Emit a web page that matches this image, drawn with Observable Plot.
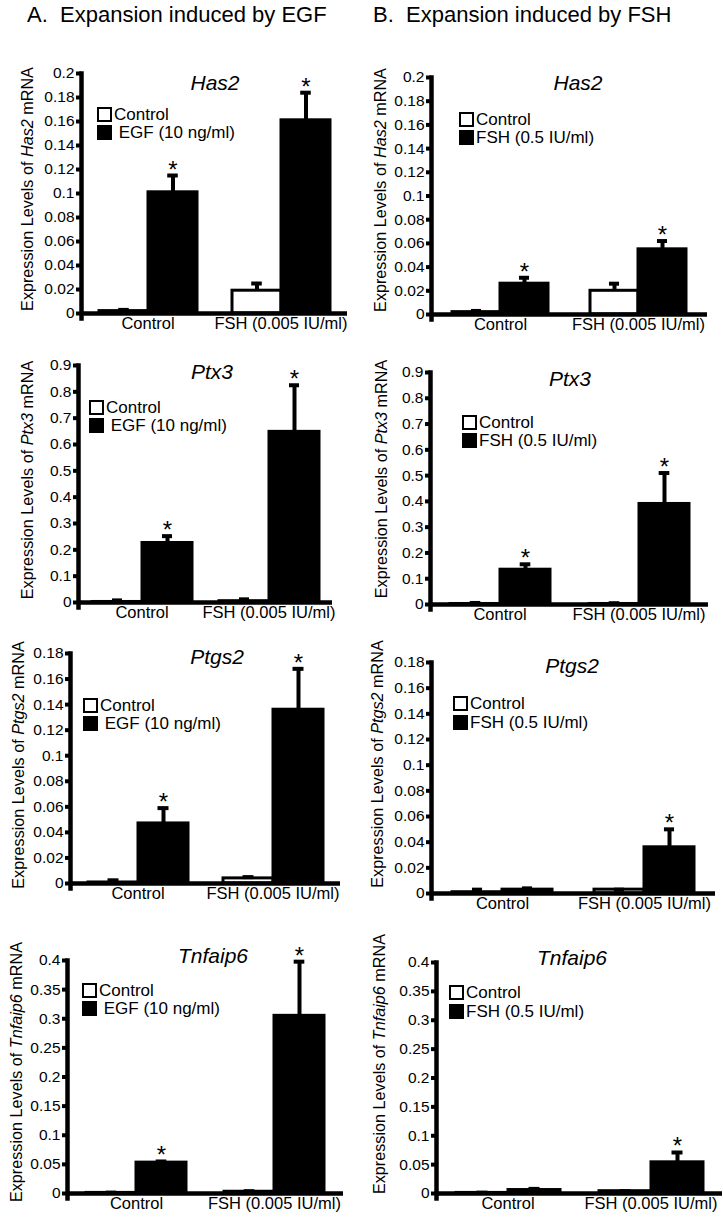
<!DOCTYPE html>
<html><head><meta charset="utf-8">
<script src="https://cdn.jsdelivr.net/npm/d3@7"></script>
<script src="https://cdn.jsdelivr.net/npm/@observablehq/plot@0.6"></script>
<style>
body{margin:0;background:#fff;}
#fig{position:relative;width:723px;height:1219px;overflow:hidden;color:#000;background:#fff;font-family:"Liberation Sans",Arial,sans-serif;}
.abs{position:absolute;white-space:pre;line-height:1;}
.title{font-size:22px;transform:translateY(-50%);}
.gene{font-size:21px;font-style:italic;transform:translate(-50%,-50%);}
.ylab{font-size:16.2px;transform:translate(-50%,-50%) rotate(-90deg);}
.leg{font-size:17px;display:flex;align-items:center;height:16px;}
.sw{display:inline-block;width:15px;height:15px;box-sizing:border-box;border:2.5px solid #000;margin-right:2px;flex:none;}
.panel{position:absolute;}
</style></head><body><div id="fig"></div>
<script>
// ---------- data ----------
const groups = ["Control", "FSH (0.005 IU/ml)"];
const egfSeries = ["Control", "EGF (10 ng/ml)"];
const fshSeries = ["Control", "FSH (0.5 IU/ml)"];
const genes = ["Has2", "Ptx3", "Ptgs2", "Tnfaip6"];
const yMax = [0.2, 0.9, 0.18, 0.4];
const yTicks = [
  [0, 0.02, 0.04, 0.06, 0.08, 0.1, 0.12, 0.14, 0.16, 0.18, 0.2],
  [0, 0.1, 0.2, 0.3, 0.4, 0.5, 0.6, 0.7, 0.8, 0.9],
  [0, 0.02, 0.04, 0.06, 0.08, 0.1, 0.12, 0.14, 0.16, 0.18],
  [0, 0.05, 0.1, 0.15, 0.2, 0.25, 0.3, 0.35, 0.4]
];
// order: [Control/Control, Treatment/Control, Control/FSH, Treatment/FSH]
const egfMeans = [
  [0.002, 0.101, 0.019, 0.161],
  [0.002, 0.226, 0.005, 0.648],
  [0.0008, 0.047, 0.004, 0.136],
  [0.001, 0.053, 0.003, 0.305]
];
const egfTops = [
  [0.003, 0.115, 0.025, 0.184],
  [0.008, 0.252, 0.012, 0.825],
  [0.0025, 0.059, 0.005, 0.168],
  [0.0015, 0.055, 0.004, 0.398]
];
const egfSig = [[0, 1, 0, 1], [0, 1, 0, 1], [0, 1, 0, 1], [0, 1, 0, 1]];
const fshMeans = [
  [0.002, 0.026, 0.020, 0.055],
  [0.002, 0.135, 0.002, 0.39],
  [0.001, 0.003, 0.003, 0.036],
  [0.001, 0.006, 0.004, 0.054]
];
const fshTops = [
  [0.003, 0.031, 0.026, 0.062],
  [0.006, 0.156, 0.005, 0.51],
  [0.003, 0.004, 0.003, 0.05],
  [0.0015, 0.008, 0.004, 0.071]
];
const fshSig = [[0, 1, 0, 1], [0, 1, 0, 1], [0, 0, 0, 1], [0, 0, 0, 1]];
const panelTitles = ["A.  Expansion induced by EGF", "B.  Expansion induced by FSH"];

// ---------- layout (pixels) ----------
const colBox = [{left: 0, w: 360}, {left: 360, w: 363}];
const rowBox = [{top: 40, h: 300}, {top: 340, h: 285}, {top: 625, h: 290}, {top: 915, h: 304}];
const frames = [
  [ {ax: 80, yt: 73, yz: 313, r: 347, pad: 0.35},
    {ax: 77, yt: 365, yz: 602, r: 332, pad: 0.25},
    {ax: 70, yt: 653, yz: 883, r: 340, pad: 0.35},
    {ax: 67, yt: 960, yz: 1193, r: 343, pad: 0.37} ],
  [ {ax: 431, yt: 77, yz: 314, r: 707, pad: 0.41},
    {ax: 430, yt: 372, yz: 604, r: 708, pad: 0.38},
    {ax: 430, yt: 662, yz: 893, r: 715, pad: 0.40},
    {ax: 436, yt: 962, yz: 1193, r: 722, pad: 0.375} ]
];
const yLabPos = [[[26.5, 189], [26.5, 479.5], [17.5, 765], [16, 1072]], [[380, 190], [381, 479], [377, 764], [379, 1064]]];
const genePos = [[[215, 82], [212, 371], [217, 656], [213, 955]], [[578, 82], [570, 378], [572, 665], [572, 957]]];
const legPos = [[[97, 114, 132.5], [89, 407.5, 425.7], [83, 705, 723], [82, 990, 1008]],
                [[459, 119.5, 137.5], [462, 422.5, 440.5], [453, 703.5, 722], [449, 992.5, 1011]]];
const titlePos = [[27, 15], [373, 15]];

const fig = document.getElementById("fig");
const FONT = '"Liberation Sans", Arial, sans-serif';

function addDiv(cls, x, y, html) {
  const d = document.createElement("div");
  d.className = "abs " + cls;
  d.style.left = x + "px";
  d.style.top = y + "px";
  d.innerHTML = html;
  fig.appendChild(d);
  return d;
}

function panel(col, row) {
  const series = col === 0 ? egfSeries : fshSeries;
  const means = (col === 0 ? egfMeans : fshMeans)[row];
  const tops = (col === 0 ? egfTops : fshTops)[row];
  const sig = (col === 0 ? egfSig : fshSig)[row];
  const rows = [];
  groups.forEach((g, gi) => series.forEach((s, si) => {
    const k = gi * 2 + si;
    rows.push({group: g, series: s, mean: means[k], top: tops[k], sig: sig[k]});
  }));
  const F = frames[col][row], C = colBox[col], R = rowBox[row];
  const facetW = (F.r - F.ax) / 2;
  const bw = facetW / (2 + 2 * F.pad);
  const capInset = (bw - 11) / 2;
  const plot = Plot.plot({
    width: C.w, height: R.h,
    marginLeft: F.ax - C.left, marginRight: C.left + C.w - F.r,
    marginTop: F.yt - R.top, marginBottom: R.top + R.h - F.yz,
    style: {background: "transparent", overflow: "visible", fontFamily: FONT, fontSize: "16px", color: "black"},
    fx: {domain: groups, paddingInner: 0, paddingOuter: 0},
    x: {domain: series, paddingInner: 0, paddingOuter: F.pad, axis: null},
    y: {domain: [0, yMax[row]], axis: null},
    color: {domain: series, range: ["white", "black"]},
    marks: [
      Plot.ruleX(rows, {fx: "group", x: "series", y1: "mean", y2: "top", stroke: "black", strokeWidth: 4}),
      Plot.barY(rows, {fx: "group", x: "series", y: "mean", fill: "series", stroke: "black", strokeWidth: 3}),
      Plot.tickY(rows, {fx: "group", x: "series", y: "top", stroke: "black", strokeWidth: 4, insetLeft: capInset, insetRight: capInset}),
      Plot.text(rows.filter(d => d.sig), {fx: "group", x: "series", y: "top", text: d => "*", fontSize: 24, lineAnchor: "bottom", dy: 2, fill: "black"}),
      Plot.ruleY([0], {stroke: "black", strokeWidth: 4.5}),
      Plot.frame({anchor: "left", facetAnchor: "left", stroke: "black", strokeWidth: 4.5, insetBottom: -5}),
      Plot.axisY({ticks: yTicks[row], tickSize: 5, strokeWidth: 4, tickPadding: 2, tickFormat: d3.format("~g"), label: null, fontSize: 15.5}),
      Plot.axisFx({anchor: "bottom", tickSize: 0, tickPadding: 4, label: null, fontSize: 16.5})
    ]
  });
  const wrap = document.createElement("div");
  wrap.className = "panel";
  wrap.style.left = C.left + "px";
  wrap.style.top = R.top + "px";
  wrap.appendChild(plot);
  fig.appendChild(wrap);

  // overlays: gene title, y label, legend
  const gene = genes[row];
  addDiv("gene", genePos[col][row][0], genePos[col][row][1], gene);
  addDiv("ylab", yLabPos[col][row][0], yLabPos[col][row][1], `Expression Levels of <i>${gene}</i> mRNA`);
  const [sx, cy1, cy2] = legPos[col][row];
  [cy1, cy2].forEach((cy, i) => {
    const d = addDiv("leg", sx, cy - 8, "");
    const sw = document.createElement("span");
    sw.className = "sw";
    sw.style.background = i === 0 ? "#fff" : "#000";
    d.appendChild(sw);
    const t = document.createElement("span");
    t.textContent = (col === 0 && i === 1 ? " " : "") + series[i];
    d.appendChild(t);
  });
}

for (let col = 0; col < 2; col++) for (let row = 0; row < 4; row++) panel(col, row);
panelTitles.forEach((t, i) => addDiv("title", titlePos[i][0], titlePos[i][1], t));
</script></body></html>
